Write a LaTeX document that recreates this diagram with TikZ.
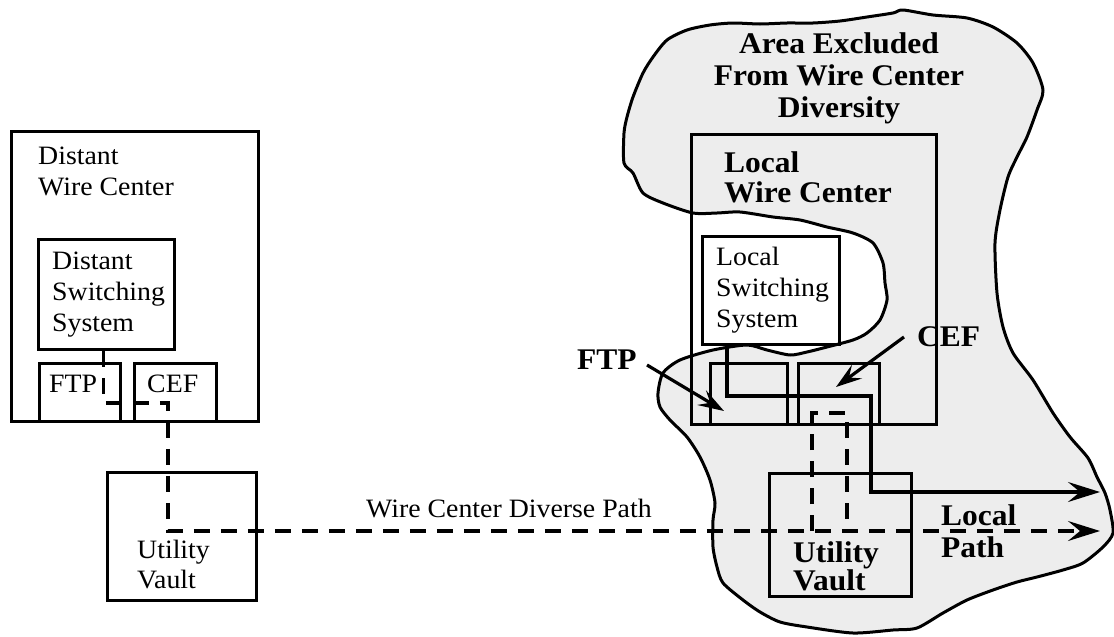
\documentclass[tikz,border=0pt]{standalone}
\usepackage{fontspec}
\setmainfont{Liberation Serif}[FakeStretch=1.05]
\usetikzlibrary{arrows.meta}
\begin{document}
\begin{tikzpicture}[x=1pt,y=-1pt,
  box/.style={draw, line width=3.2pt, inner sep=0pt, anchor=north west},
  reg/.style={font=\fontsize{26.5}{31}\selectfont, inner sep=0pt, anchor=north west, align=left},
  bld/.style={font=\fontsize{30}{31}\selectfont\bfseries, inner sep=0pt, anchor=north west, align=left},
  wire/.style={line width=3.2pt},
  dwire/.style={line width=3.2pt, dash pattern=on 16pt off 11pt},
  bigtip/.style={-{Stealth[length=32pt,width=20pt,inset=12pt]}},
  smalltip/.style={-{Stealth[length=26pt,width=17pt,inset=10pt]}},
  area/.style={draw, line width=3pt, fill=black!7, line join=round},
]
\useasboundingbox (0,0) rectangle (1114,637);
\fill[white] (0,0) rectangle (1114,637);

% excluded area
\draw[area] plot[smooth cycle, tension=0.45] coordinates {
 (903,10) (933,15) (967,18) (993,27) (1017,43) (1033,63) (1043,90) (1037,110)
 (1027,137) (1017,157) (1008,177) (1000,210) (995,243) (997,293) (1003,327)
 (1013,353) (1033,380) (1053,413) (1070,437) (1088,458) (1097,477) (1105,493)
 (1110,510) (1113,533) (1103,547) (1083,563) (1063,570) (1037,577) (1017,582)
 (993,590) (967,600) (943,613) (917,628) (893,630) (853,633) (807,627) (780,622)
 (760,612) (743,600) (723,583) (717,567) (713,547) (713,520) (715,503) (710,480)
 (700,457) (687,437) (670,420) (660,407) (658,393) (663,373) (680,360) (713,350)
 (747,345) (767,350) (790,355) (807,352) (827,347) (853,340) (867,333) (880,320)
 (887,300) (885,283) (883,263) (873,243) (853,233) (827,227) (800,220) (773,217)
 (740,212) (717,213) (693,213) (663,203) (643,193) (633,173) (624,163) (624,133)
 (627,117) (633,97) (643,73) (653,57) (667,40) (687,30) (710,25) (733,23) (760,24)
 (787,23) (813,23) (840,21) (867,17) (893,13)};

% left side boxes
\node[box, minimum width=247pt, minimum height=290pt] (dwc) at (10,130) {};
\node[box, minimum width=136pt, minimum height=110pt] (dss) at (37,238) {};
\node[box, minimum width=81pt, minimum height=58pt] (dftp) at (38,362) {};
\node[box, minimum width=82pt, minimum height=58pt] (dcef) at (133,362) {};
\node[box, minimum width=149pt, minimum height=128pt] (duv) at (106,471) {};

% right side boxes
\node[box, minimum width=245pt, minimum height=290pt] (lwc) at (690,133) {};
\node[box, minimum width=137pt, minimum height=108pt] (lss) at (701,235) {};
\node[box, minimum width=77pt, minimum height=61pt] (lftp) at (709,362) {};
\node[box, minimum width=81pt, minimum height=61pt] (lcef) at (797,362) {};
\node[box, minimum width=142pt, minimum height=123pt] (luv) at (768,472) {};

% texts
\node[reg] (tdwc) at (38,147) {Distant\\Wire Center};
\node[reg] (tdss) at (52,252) {Distant\\Switching\\System};
\node[reg] (tdftp) at (49,375) {FTP};
\node[reg] (tdcef) at (147,375) {CEF};
\node[reg, font=\fontsize{26.5}{30}\selectfont] (tduv) at (137,540) {Utility\\Vault};
\node[reg] (tpath) at (366,499) {Wire Center Diverse Path};
\node[reg] (tlss) at (716,247) {Local\\Switching\\System};

\node[bld, anchor=north, align=center, font=\fontsize{30}{32}\selectfont\bfseries] (tarea) at (839,32) {Area Excluded\\From Wire Center\\Diversity};
\node[bld, font=\fontsize{30}{30}\selectfont\bfseries] (tlwc) at (724,151) {Local\\Wire Center};
\node[bld] (tftp) at (577,350) {FTP};
\node[bld] (tcef) at (917,326) {CEF};
\node[bld, font=\fontsize{30}{26}\selectfont\bfseries] (tluv) at (793,541) {Utility\\Vault};
\node[bld, font=\fontsize{30}{32}\selectfont\bfseries] (tlp) at (941,504) {Local\\Path};

% connectors
\coordinate (endA) at (1100,492);
\coordinate (endB) at (1100,531);
\coordinate (ftpA) at (647,365);
\coordinate (ftpB) at (724,411);
\coordinate (cefA) at (904,337);
\coordinate (cefB) at (836,387);

\draw[dwire, bigtip] ([xshift=-3pt]dss.south) |- (168,403) |- (endB);
\draw[dwire] (812,531) |- (847,413) -- (847,531);
\draw[wire, bigtip] ([xshift=26pt]lss.south west) |- (871,396) |- (endA);
\draw[wire, smalltip] (ftpA) -- (ftpB);
\draw[wire, smalltip] (cefA) -- (cefB);
\end{tikzpicture}
\end{document}
